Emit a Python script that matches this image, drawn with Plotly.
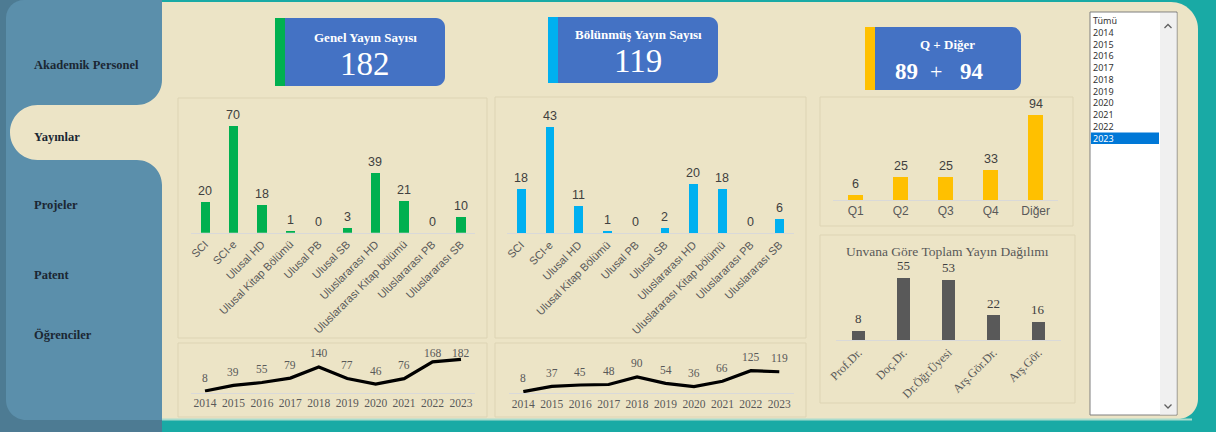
import plotly.graph_objects as go

W, H = 1216, 432

# ---------------- data ----------------
pub_types = ["SCI", "SCI-e", "Ulusal HD", "Ulusal Kitap Bölümü", "Ulusal PB", "Ulusal SB",
             "Uluslararası HD", "Uluslararası Kitap bölümü", "Uluslararası PB", "Uluslararası SB"]
general_counts = [20, 70, 18, 1, 0, 3, 39, 21, 0, 10]
divided_counts = [18, 43, 11, 1, 0, 2, 20, 18, 0, 6]
q_cats = ["Q1", "Q2", "Q3", "Q4", "Diğer"]
q_counts = [6, 25, 25, 33, 94]
titles = ["Prof.Dr.", "Doç.Dr.", "Dr.Öğr.Üyesi", "Arş.Gör.Dr.", "Arş.Gör."]
title_counts = [8, 55, 53, 22, 16]
years = ["2014", "2015", "2016", "2017", "2018", "2019", "2020", "2021", "2022", "2023"]
general_by_year = [8, 39, 55, 79, 140, 77, 46, 76, 168, 182]
divided_by_year = [8, 37, 45, 48, 90, 54, 36, 66, 125, 119]
kpi_general = 182
kpi_divided = 119
kpi_q = 89
kpi_other = 94
menu_items = ["Akademik Personel", "Yayınlar", "Projeler", "Patent", "Öğrenciler"]
list_items = ["Tümü"] + years
selected_item = "2023"

# ---------------- colours ----------------
TEAL = "#19aaa5"
BEIGE = "#ece4c6"
PANEL_LINE = "#ddd4b4"
SIDE = "#5b8fab"
SIDE_DARK = "#4d7b93"
KPI_BLUE = "#4472c4"
GREEN = "#00b050"
CYAN = "#00b0f0"
YELLOW = "#ffc000"
DARKGRAY = "#595959"
SERIF = "Liberation Serif, Times New Roman, serif"
SANS = "Liberation Sans, Arial, sans-serif"

K = 0.5523


def mkpath(cmds):
    out = []
    for c in cmds:
        op, nums = c[0], c[1:]
        pts = [f"{nums[i] / W:.6f},{1 - nums[i + 1] / H:.6f}" for i in range(0, len(nums), 2)]
        out.append(op + " " + " ".join(pts))
    return " ".join(out)


def rrect(x0, y0, x1, y1, tl=0, tr=0, br=0, bl=0):
    c = [("M", x0 + tl, y0), ("L", x1 - tr, y0)]
    if tr:
        c.append(("C", x1 - tr + K * tr, y0, x1, y0 + tr - K * tr, x1, y0 + tr))
    c.append(("L", x1, y1 - br))
    if br:
        c.append(("C", x1, y1 - br + K * br, x1 - br + K * br, y1, x1 - br, y1))
    c.append(("L", x0 + bl, y1))
    if bl:
        c.append(("C", x0 + bl - K * bl, y1, x0, y1 - bl + K * bl, x0, y1 - bl))
    c.append(("L", x0, y0 + tl))
    if tl:
        c.append(("C", x0, y0 + tl - K * tl, x0 + tl - K * tl, y0, x0 + tl, y0))
    c.append(("Z",))
    return mkpath(c)


shapes = []


def add_path(path, fill, line_color=None, line_width=0):
    shapes.append(dict(type="path", xref="paper", yref="paper", path=path, fillcolor=fill,
                       line=dict(color=line_color or fill, width=line_width), layer="below"))


def add_rect(x0, y0, x1, y1, fill, line_color=None, line_width=0):
    shapes.append(dict(type="rect", xref="paper", yref="paper", x0=x0 / W, x1=x1 / W,
                       y0=1 - y1 / H, y1=1 - y0 / H, fillcolor=fill,
                       line=dict(color=line_color or fill, width=line_width), layer="below"))


# background structure
add_rect(0, 0, 162, 432, SIDE_DARK)
add_path(rrect(130, 2, 1198, 419, tr=27, br=20), BEIGE)
add_rect(162, 418.5, 1192, 420.5, "#a9dccd")
add_path(rrect(6, 0, 162, 420, tl=18, bl=20), SIDE)
# selected tab "Yayınlar" with concave corners
r, rt = 25, 27.5
tab = [("M", 162, 105 - r),
       ("C", 162, 105 - r + K * r, 137 + K * r, 105, 137, 105),
       ("L", 10 + rt, 105),
       ("C", 10 + rt - K * rt, 105, 10, 132.5 - K * rt, 10, 132.5),
       ("C", 10, 132.5 + K * rt, 10 + rt - K * rt, 160, 10 + rt, 160),
       ("L", 137, 160),
       ("C", 137 + K * r, 160, 162, 160 + r - K * r, 162, 160 + r),
       ("Z",)]
add_path(mkpath(tab), BEIGE)

# chart panels
for (x0, y0, x1, y1) in [(178, 98, 487, 338), (495, 97, 806, 338), (820, 97, 1073, 226),
                         (820, 235, 1075, 403), (178, 343, 487, 417), (495, 343, 806, 417)]:
    add_rect(x0, y0, x1, y1, BEIGE, PANEL_LINE, 1)

# KPI boxes
for (x0, y0, x1, y1, stripe) in [(275, 18, 445, 86, GREEN), (548, 17, 718, 83, CYAN),
                                 (865, 27, 1021, 90, YELLOW)]:
    add_path(rrect(x0, y0, x1, y1, tr=9, br=9), KPI_BLUE)
    add_rect(x0, y0, x0 + 10, y1, stripe)

# list box
add_rect(1090, 12, 1177, 415, "#ffffff", "#7f7f7f", 1)
add_rect(1160, 13, 1176.5, 414.5, "#f0f0f0")
sel_idx = list_items.index(selected_item)
add_rect(1091, 15 + sel_idx * 11.75, 1159, 26.5 + sel_idx * 11.75, "#0078d7")
shapes.append(dict(type="path", xref="paper", yref="paper",
                   path=mkpath([("M", 1164.5, 28), ("L", 1168, 24.5), ("L", 1171.5, 28)]),
                   line=dict(color="#606060", width=1.3), layer="above"))
shapes.append(dict(type="path", xref="paper", yref="paper",
                   path=mkpath([("M", 1164.5, 404.5), ("L", 1168, 408), ("L", 1171.5, 404.5)]),
                   line=dict(color="#606060", width=1.3), layer="above"))

annotations = []


def add_text(x, y, text, size, color, family=SERIF, bold=False, xanchor="center"):
    annotations.append(dict(xref="paper", yref="paper", x=x / W, y=1 - y / H,
                            text=f"<b>{text}</b>" if bold else text,
                            showarrow=False, xanchor=xanchor, yanchor="middle", borderpad=0,
                            font=dict(size=size, color=color, family=family)))


# sidebar labels
for label, yy in zip(menu_items, [65, 137, 205, 275, 335]):
    add_text(33, yy, label, 12.5, "#1b2733", bold=True, xanchor="left")

# KPI texts
add_text(365, 37, "Genel Yayın Sayısı", 13, "white", bold=True)
add_text(365, 64, str(kpi_general), 33, "white")
add_text(638, 35, "Bölünmüş Yayın Sayısı", 13, "white", bold=True)
add_text(638, 61, str(kpi_divided), 33, "white")
add_text(947, 45, "Q + Diğer", 13, "white", bold=True)
add_text(906, 71, str(kpi_q), 23, "white", bold=True)
add_text(936, 71, "+", 22, "white")
add_text(972, 71, str(kpi_other), 23, "white", bold=True)

# chart title
add_text(947, 251.5, "Unvana Göre Toplam Yayın Dağılımı", 13.5, DARKGRAY)

# list items
for i, item in enumerate(list_items):
    add_text(1092, 20.5 + i * 11.75, item, 9, "white" if item == selected_item else "#333333",
             family="Noto Sans, DejaVu Sans, sans-serif", xanchor="left")

# ---------------- charts ----------------
fig = go.Figure()


def axis_pair(x_first, x_last, n, base_px, top_px, px_per_unit):
    sp = (x_last - x_first) / (n - 1)
    dom_x = [(x_first - sp / 2) / W, (x_last + sp / 2) / W]
    dom_y = [1 - base_px / H, 1 - top_px / H]
    ymax = (base_px - top_px) / px_per_unit
    return dom_x, dom_y, ymax


def setup(idx, cats, dom_x, dom_y, ymax, tickangle, tickfont):
    sfx = "" if idx == 1 else str(idx)
    fig.layout["xaxis" + sfx] = dict(domain=dom_x, anchor="y" + sfx, type="category",
                                     range=[-0.5, len(cats) - 0.5], showline=True,
                                     linecolor="#d9d9d9", linewidth=1, showgrid=False,
                                     zeroline=False, ticks="", tickangle=tickangle,
                                     tickfont=tickfont, fixedrange=True, automargin=False)
    fig.layout["yaxis" + sfx] = dict(domain=dom_y, anchor="x" + sfx, range=[0, ymax],
                                     showgrid=False, zeroline=False, showline=False,
                                     showticklabels=False, fixedrange=True, automargin=False)


def bar_chart(idx, cats, vals, color, width, x_first, x_last, base, top, ppu,
              tickangle, tickfont, labfont, shift):
    dx, dy, ymax = axis_pair(x_first, x_last, len(cats), base, top, ppu)
    setup(idx, cats, dx, dy, ymax, tickangle, tickfont)
    sfx = "" if idx == 1 else str(idx)
    fig.add_trace(go.Bar(x=cats, y=vals, marker=dict(color=color, line=dict(width=0)),
                         width=width, xaxis="x" + sfx, yaxis="y" + sfx, hoverinfo="x+y"))
    for i, v in enumerate(vals):
        annotations.append(dict(xref="x" + sfx, yref="y" + sfx, x=i, y=v, text=str(v),
                                showarrow=False, yanchor="middle", yshift=shift, font=labfont))


sans_tick = dict(family=SANS, size=11, color=DARKGRAY)
sans_lab = dict(family=SANS, size=12.5, color="#404040")
serif_tick = dict(family=SERIF, size=12, color=DARKGRAY)
serif_lab = dict(family=SERIF, size=13, color="#404040")

bar_chart(1, pub_types, general_counts, GREEN, 0.33, 205, 460.7, 232.7, 110, 1.524,
          -45, sans_tick, sans_lab, 11)
bar_chart(2, pub_types, divided_counts, CYAN, 0.30, 521, 779.3, 233.3, 110, 2.465,
          -45, sans_tick, sans_lab, 11)
bar_chart(3, q_cats, q_counts, YELLOW, 0.32, 855.7, 1035.7, 200, 105, 0.904,
          0, dict(family=SANS, size=12, color=DARKGRAY), sans_lab, 11)
bar_chart(4, titles, title_counts, "#595959", 0.28, 858.3, 1038.3, 340, 265, 1.133,
          -45, serif_tick, serif_lab, 12)


def line_chart(idx, vals, x_first, x_last, base, ppu, cap_px):
    dx, dy, ymax = axis_pair(x_first, x_last, len(years), base, 350, ppu)
    setup(idx, years, dx, dy, ymax, 0, dict(family=SERIF, size=11.5, color=DARKGRAY))
    sfx = str(idx)
    fig.add_trace(go.Scatter(x=years, y=vals, mode="lines",
                             line=dict(color="black", width=3.2), xaxis="x" + sfx,
                             yaxis="y" + sfx, hoverinfo="x+y"))
    cap_val = (base - cap_px - 13.5) / ppu
    for i, v in enumerate(vals):
        annotations.append(dict(xref="x" + sfx, yref="y" + sfx, x=i, y=min(v, cap_val),
                                text=str(v), showarrow=False, yanchor="middle", yshift=13.5,
                                font=dict(family=SERIF, size=11.5, color=DARKGRAY)))


line_chart(5, general_by_year, 205, 461, 392.5, 0.1822, 352.5)
line_chart(6, divided_by_year, 523.3, 779.3, 393.1, 0.1795, 352.5)

fig.update_layout(width=W, height=H, margin=dict(l=0, r=0, t=0, b=0, pad=0, autoexpand=False),
                  paper_bgcolor=TEAL, plot_bgcolor="rgba(0,0,0,0)", template="none",
                  showlegend=False, shapes=shapes, annotations=annotations, bargap=0)

post = ("document.documentElement.style.margin='0';document.documentElement.style.padding='0';"
        "document.documentElement.style.overflow='hidden';"
        "document.body.style.margin='0';document.body.style.padding='0';"
        "document.body.style.overflow='hidden';"
        "var gd=document.getElementById('{plot_id}');"
        "gd.style.position='fixed';gd.style.left='0px';gd.style.top='0px';")

fig.write_html("out.html", config={"displayModeBar": False},
               post_script=post)
